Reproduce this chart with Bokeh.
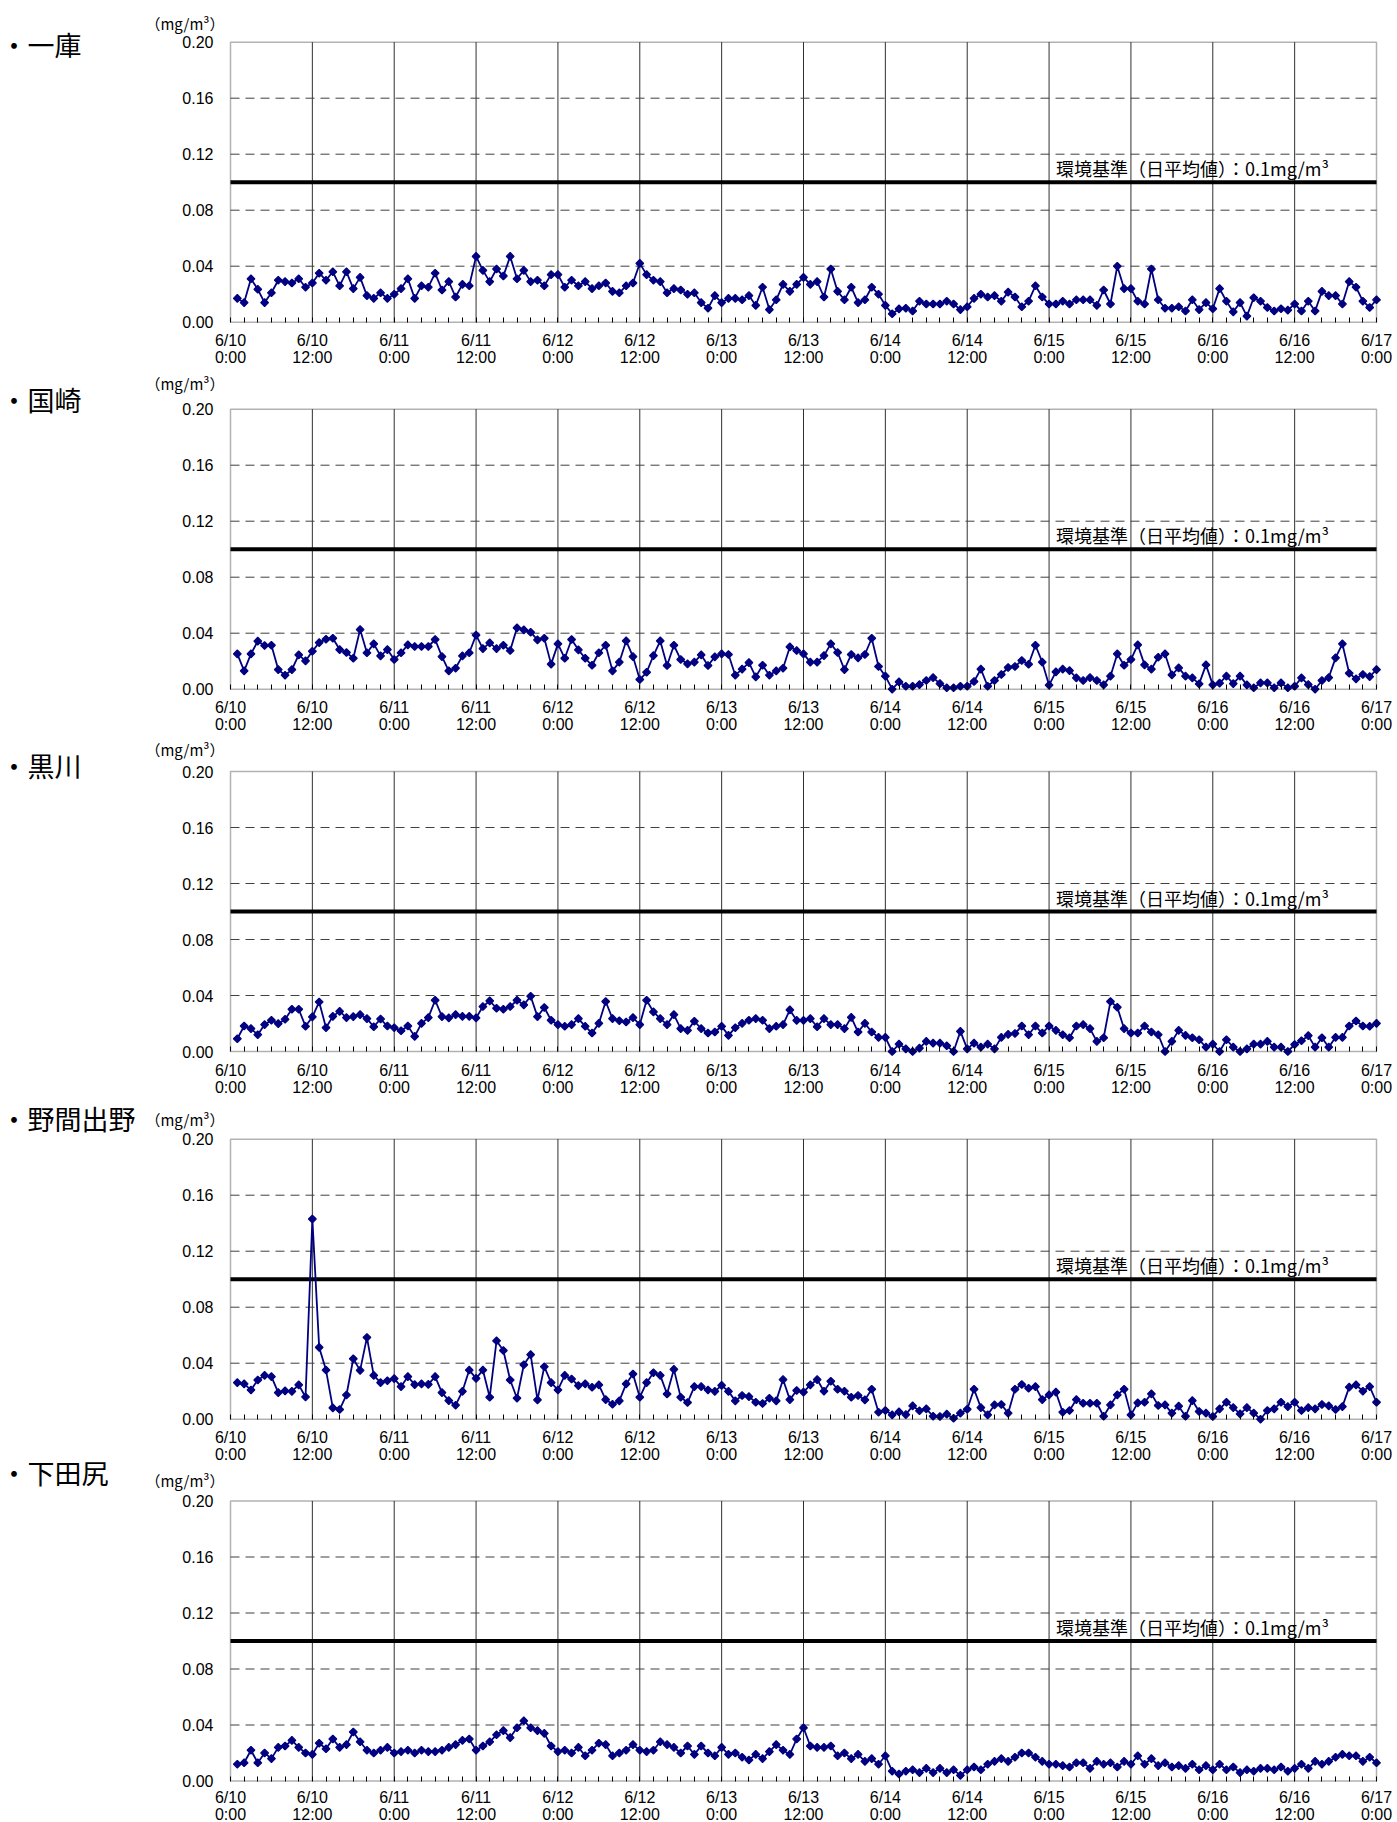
from bokeh.plotting import figure
from bokeh.layouts import column
from bokeh.models import (Range1d, FixedTicker, Label, LinearAxis,
                          NumeralTickFormatter, BoxAnnotation)
from bokeh.embed import file_html
from bokeh.resources import INLINE

# ---------------- data ----------------
HOURS = list(range(1, 169))  # hourly values 6/10 1:00 ... 6/17 0:00
X_TICKS = list(range(0, 169, 12))
X_TICK_LABELS = ["6/10\n0:00", "6/10\n12:00", "6/11\n0:00", "6/11\n12:00",
                 "6/12\n0:00", "6/12\n12:00", "6/13\n0:00", "6/13\n12:00",
                 "6/14\n0:00", "6/14\n12:00", "6/15\n0:00", "6/15\n12:00",
                 "6/16\n0:00", "6/16\n12:00", "6/17\n0:00"]
MINOR_TICKS = list(range(0, 169, 2))
Y_TICKS = [0.0, 0.04, 0.08, 0.12, 0.16, 0.20]
STANDARD = 0.1
STANDARD_LABEL = "環境基準（日平均値）：0.1mg/m³"
UNIT_LABEL = "（mg/m³）"
STATIONS = ["一庫", "国崎", "黒川", "野間出野", "下田尻"]

ICHIKURA = [
    0.017, 0.014, 0.031, 0.0235, 0.014, 0.021, 0.030, 0.029, 0.028, 0.031, 0.025, 0.028,
    0.035, 0.030, 0.036, 0.026, 0.036, 0.024, 0.032, 0.019, 0.017, 0.021, 0.017, 0.020,
    0.024, 0.031, 0.017, 0.026, 0.025, 0.035, 0.023, 0.029, 0.018, 0.027, 0.026, 0.047,
    0.037, 0.029, 0.038, 0.033, 0.047, 0.031, 0.037, 0.029, 0.030, 0.026, 0.034, 0.034,
    0.025, 0.030, 0.026, 0.029, 0.024, 0.026, 0.028, 0.022, 0.021, 0.026, 0.028, 0.042,
    0.034, 0.030, 0.029, 0.021, 0.024, 0.023, 0.020, 0.021, 0.014, 0.010, 0.019, 0.014,
    0.017, 0.017, 0.016, 0.019, 0.012, 0.025, 0.009, 0.016, 0.027, 0.022, 0.027, 0.032,
    0.027, 0.029, 0.018, 0.038, 0.022, 0.016, 0.025, 0.014, 0.016, 0.025, 0.020, 0.012,
    0.006, 0.0095, 0.010, 0.008, 0.015, 0.013, 0.013, 0.013, 0.015, 0.013, 0.009, 0.011,
    0.017, 0.020, 0.018, 0.019, 0.015, 0.0215, 0.018, 0.011, 0.015, 0.026, 0.018, 0.013,
    0.013, 0.015, 0.013, 0.016, 0.016, 0.016, 0.012, 0.023, 0.013, 0.040, 0.024, 0.024,
    0.015, 0.013, 0.038, 0.016, 0.010, 0.010, 0.011, 0.008, 0.016, 0.009, 0.014, 0.0096,
    0.024, 0.015, 0.0074, 0.014, 0.0043, 0.0175, 0.015, 0.0105, 0.008, 0.0096, 0.0086, 0.013,
    0.008, 0.015, 0.008, 0.022, 0.019, 0.019, 0.013, 0.029, 0.025, 0.015, 0.0105, 0.016,
]

KUNISAKI = [
    0.0252, 0.0131, 0.0252, 0.0343, 0.0312, 0.0314, 0.014, 0.010, 0.014, 0.0245, 0.0202, 0.0271,
    0.0333, 0.0357, 0.0364, 0.0283, 0.0262, 0.0221, 0.0426, 0.026, 0.0324, 0.0238, 0.0283, 0.0212,
    0.026, 0.0317, 0.0305, 0.0305, 0.0305, 0.0355, 0.0233, 0.0131, 0.015, 0.0238, 0.026, 0.0386,
    0.029, 0.0331, 0.029, 0.0314, 0.0276, 0.0438, 0.0424, 0.0407, 0.0352, 0.0364, 0.0179, 0.0324,
    0.0221, 0.0355, 0.0281, 0.0221, 0.0171, 0.026, 0.0314, 0.0131, 0.0193, 0.0345, 0.0233, 0.0069,
    0.0121, 0.024, 0.0345, 0.0169, 0.0314, 0.0212, 0.0181, 0.0193, 0.0245, 0.0169, 0.0231, 0.0252,
    0.0248, 0.010, 0.0143, 0.019, 0.0088, 0.0171, 0.010, 0.0131, 0.015, 0.0302, 0.0276, 0.0252,
    0.0193, 0.0193, 0.024, 0.0324, 0.0262, 0.014, 0.0248, 0.0224, 0.0248, 0.0364, 0.0162, 0.0093,
    0.0, 0.0052, 0.0021, 0.0021, 0.0033, 0.0062, 0.0083, 0.0040, 0.001, 0.001, 0.0021, 0.0021,
    0.0055, 0.0143, 0.0021, 0.0062, 0.0105, 0.0155, 0.0162, 0.0205, 0.0178, 0.0314, 0.0193, 0.0029,
    0.0124, 0.0143, 0.0133, 0.0081, 0.0062, 0.0083, 0.0062, 0.0031, 0.0093, 0.0252, 0.0171, 0.0212,
    0.0317, 0.0174, 0.0143, 0.0228, 0.0252, 0.0102, 0.0152, 0.0093, 0.0081, 0.0038, 0.0174, 0.0031,
    0.0043, 0.0093, 0.0040, 0.0093, 0.0031, 0.001, 0.0045, 0.0045, 0.001, 0.0045, 0.001, 0.0021,
    0.0081, 0.0033, 0.0, 0.0062, 0.0083, 0.0224, 0.0324, 0.0114, 0.0074, 0.0105, 0.0090, 0.014,
]

KUROKAWA = [
    0.0091, 0.0182, 0.0163, 0.012, 0.0192, 0.0223, 0.0199, 0.023, 0.0302, 0.0302, 0.018, 0.0247,
    0.0354, 0.017, 0.0251, 0.0287, 0.0242, 0.0249, 0.0263, 0.0235, 0.0177, 0.0232, 0.0182, 0.017,
    0.0148, 0.0182, 0.0108, 0.0201, 0.0242, 0.0366, 0.0249, 0.024, 0.0263, 0.0251, 0.0251, 0.024,
    0.0321, 0.0362, 0.0309, 0.0302, 0.0321, 0.0366, 0.0333, 0.0395, 0.0249, 0.0314, 0.0223, 0.0192,
    0.018, 0.0192, 0.0235, 0.018, 0.0132, 0.0201, 0.0357, 0.0235, 0.022, 0.0211, 0.0242, 0.0192,
    0.0366, 0.0283, 0.0235, 0.0192, 0.0263, 0.0163, 0.0151, 0.0216, 0.0163, 0.0132, 0.0139, 0.018,
    0.0115, 0.017, 0.0201, 0.0223, 0.0235, 0.0223, 0.0163, 0.018, 0.0192, 0.0297, 0.0222, 0.0222,
    0.0235, 0.0177, 0.0235, 0.0192, 0.0192, 0.0163, 0.0244, 0.0139, 0.0201, 0.0139, 0.0101, 0.0101,
    0.0, 0.0053, 0.0019, 0.0, 0.0024, 0.0072, 0.006, 0.006, 0.0041, 0.0, 0.0144, 0.0019,
    0.006, 0.0031, 0.0053, 0.0019, 0.0101, 0.0122, 0.0129, 0.0182, 0.012, 0.0182, 0.0132, 0.0182,
    0.0151, 0.012, 0.0098, 0.0182, 0.0192, 0.0163, 0.0072, 0.0098, 0.0357, 0.0316, 0.0163, 0.0132,
    0.0132, 0.0182, 0.0139, 0.012, 0.0, 0.0072, 0.0151, 0.0115, 0.0098, 0.0084, 0.0031, 0.0053,
    0.0, 0.0084, 0.0031, 0.0, 0.0019, 0.0053, 0.0053, 0.0072, 0.0031, 0.0031, 0.0, 0.0050,
    0.0077, 0.0113, 0.0031, 0.0098, 0.0031, 0.0101, 0.0101, 0.0182, 0.0218, 0.0182, 0.018, 0.0201,
]

NOMAIDENO = [
    0.0261, 0.0252, 0.0209, 0.028, 0.0313, 0.0304, 0.019, 0.0202, 0.0199, 0.0245, 0.0159, 0.143,
    0.0513, 0.0351, 0.0081, 0.0069, 0.0173, 0.0432, 0.0349, 0.0584, 0.0313, 0.0261, 0.0275, 0.029,
    0.0233, 0.0304, 0.0247, 0.0252, 0.0249, 0.0304, 0.019, 0.0133, 0.010, 0.0199, 0.0351, 0.0292,
    0.0351, 0.0157, 0.056, 0.0491, 0.028, 0.015, 0.0389, 0.0461, 0.0138, 0.0375, 0.0261, 0.0209,
    0.0313, 0.0287, 0.024, 0.0252, 0.0228, 0.0245, 0.014, 0.0107, 0.0131, 0.0252, 0.0323, 0.0157,
    0.0261, 0.0332, 0.0313, 0.018, 0.0356, 0.0157, 0.0119, 0.0233, 0.0233, 0.0209, 0.0199, 0.0242,
    0.0199, 0.0131, 0.0169, 0.0161, 0.0121, 0.0112, 0.015, 0.0131, 0.0283, 0.014, 0.0205, 0.0193,
    0.0245, 0.0283, 0.02, 0.0271, 0.0214, 0.02, 0.0157, 0.0169, 0.0138, 0.0214, 0.005, 0.0062,
    0.0031, 0.0052, 0.0033, 0.0095, 0.006, 0.0074, 0.0021, 0.0019, 0.0036, 0.0007, 0.0043, 0.0071,
    0.0214, 0.0083, 0.0031, 0.0102, 0.0105, 0.0043, 0.0214, 0.0248, 0.0221, 0.0233, 0.014, 0.0174,
    0.0193, 0.005, 0.0062, 0.014, 0.0114, 0.0114, 0.0114, 0.0021, 0.0102, 0.0174, 0.0214, 0.0031,
    0.0117, 0.0121, 0.0181, 0.0098, 0.0102, 0.0043, 0.0093, 0.0021, 0.0133, 0.0055, 0.0043, 0.0019,
    0.0074, 0.0121, 0.0083, 0.0038, 0.0083, 0.0043, 0.0, 0.0062, 0.0074, 0.0121, 0.009, 0.0121,
    0.0062, 0.0083, 0.0074, 0.0105, 0.0095, 0.0069, 0.009, 0.0229, 0.0245, 0.02, 0.0233, 0.0121,
]

SHIMOTAJIRI = [
    0.012, 0.013, 0.022, 0.013, 0.020, 0.016, 0.024, 0.025, 0.029, 0.024, 0.020, 0.019,
    0.027, 0.023, 0.030, 0.024, 0.026, 0.035, 0.028, 0.022, 0.020, 0.022, 0.024, 0.020,
    0.021, 0.022, 0.020, 0.022, 0.021, 0.021, 0.022, 0.024, 0.026, 0.029, 0.030, 0.022,
    0.025, 0.028, 0.033, 0.036, 0.031, 0.038, 0.043, 0.038, 0.036, 0.034, 0.025, 0.021,
    0.022, 0.020, 0.024, 0.018, 0.022, 0.027, 0.026, 0.018, 0.020, 0.022, 0.026, 0.022,
    0.021, 0.022, 0.028, 0.026, 0.024, 0.020, 0.025, 0.019, 0.025, 0.020, 0.018, 0.024,
    0.019, 0.020, 0.017, 0.015, 0.019, 0.016, 0.021, 0.026, 0.022, 0.019, 0.030, 0.038,
    0.025, 0.024, 0.024, 0.025, 0.018, 0.020, 0.016, 0.019, 0.014, 0.016, 0.012, 0.018,
    0.007, 0.005, 0.007, 0.008, 0.006, 0.009, 0.006, 0.009, 0.006, 0.008, 0.004, 0.008,
    0.010, 0.008, 0.012, 0.014, 0.016, 0.014, 0.017, 0.020, 0.020, 0.017, 0.014, 0.012,
    0.012, 0.011, 0.010, 0.013, 0.013, 0.009, 0.014, 0.012, 0.013, 0.010, 0.014, 0.012,
    0.018, 0.012, 0.016, 0.011, 0.013, 0.010, 0.011, 0.009, 0.012, 0.008, 0.011, 0.008,
    0.012, 0.008, 0.010, 0.006, 0.008, 0.007, 0.009, 0.009, 0.008, 0.010, 0.007, 0.009,
    0.012, 0.009, 0.014, 0.012, 0.014, 0.017, 0.019, 0.018, 0.018, 0.014, 0.017, 0.013,
]

SERIES = [ICHIKURA, KUNISAKI, KUROKAWA, NOMAIDENO, SHIMOTAJIRI]

# ---------------- layout / style (pixels) ----------------
CANVAS_W = 1397
PLOT_LEFT = 230            # x pixel of 6/10 0:00
PLOT_RIGHT = 1376          # x pixel of 6/17 0:00
PX_PER_UNIT = 280 / 0.2    # vertical scale: 0.20 mg/m3 = 280 px
FONT_CJK = "Noto Sans CJK JP"
FONT_NUM = "Liberation Sans"
NAVY = "#000080"

# canvas boundaries and per-panel positions in page pixels
BOUNDS = [0, 370, 736, 1097, 1491, 1822]
FRAME_BOTTOM = [321.7, 688.7, 1051.0, 1418.7, 1780.5]
TITLE_Y = [44, 399, 765, 1118, 1472]
UNIT_Y = [23, 383, 749, 1119, 1480]
XLABEL_STANDOFF = [10, 10, 10, 10, 8]
# canvas that carries each panel's title / unit texts
TEXT_HOST = [0, 1, 2, 3, 3]

SPAN_H = X_TICKS[-1] - X_TICKS[0]
PX_PER_H = (PLOT_RIGHT - PLOT_LEFT) / SPAN_H


def px_x(px):
    return X_TICKS[0] + (px - PLOT_LEFT) / PX_PER_H


def make_panel(i, values):
    top, bot = BOUNDS[i], BOUNDS[i + 1]
    fb = FRAME_BOTTOM[i]
    xs = px_x(0)
    xe = px_x(CANVAS_W)
    ys = -(bot - fb) / PX_PER_UNIT
    ye = (fb - top) / PX_PER_UNIT

    p = figure(width=CANVAS_W, height=bot - top,
               x_range=Range1d(xs, xe), y_range=Range1d(ys, ye),
               x_axis_type=None, y_axis_type=None,
               output_backend="svg", toolbar_location=None,
               min_border=0)
    p.outline_line_color = None
    p.background_fill_color = "white"
    p.border_fill_color = "white"
    p.xgrid.visible = False
    p.ygrid.visible = False

    x0, x1 = X_TICKS[0], X_TICKS[-1]
    y0, y1 = Y_TICKS[0], Y_TICKS[-1]

    # grid lines
    vx = X_TICKS[1:-1]
    p.segment(x0=vx, y0=[y0] * len(vx), x1=vx, y1=[y1] * len(vx),
              line_color="#303030", line_width=1)
    hy = Y_TICKS[1:-1]
    p.segment(x0=[x0] * len(hy), y0=hy, x1=[x1] * len(hy), y1=hy,
              line_color="#404040", line_width=1, line_dash="9 6")

    # environmental standard
    p.segment(x0=[x0], y0=[STANDARD], x1=[x1], y1=[STANDARD],
              line_color="black", line_width=4)

    # data
    p.line(HOURS, values, line_color=NAVY, line_width=1.8)
    p.scatter(HOURS, values, marker="square", angle=0.785398, size=5.5,
              fill_color=NAVY, line_color=NAVY, line_width=1.2)

    # plot border
    p.add_layout(BoxAnnotation(left=x0, right=x1, bottom=y0, top=y1,
                               fill_color=None, fill_alpha=0,
                               line_color="black", line_width=1.5))

    # axes fixed to the plot box edges
    xa = LinearAxis(fixed_location=y0, bounds=(x0, x1))
    xa.ticker = FixedTicker(ticks=X_TICKS, minor_ticks=MINOR_TICKS)
    xa.major_label_overrides = {t: lab for t, lab in zip(X_TICKS, X_TICK_LABELS)}
    xa.axis_line_color = None
    xa.major_tick_line_color = None
    xa.major_tick_in = 0
    xa.major_tick_out = 0
    xa.minor_tick_line_color = "black"
    xa.minor_tick_in = 5
    xa.minor_tick_out = 0
    xa.major_label_standoff = XLABEL_STANDOFF[i]
    xa.major_label_text_font = FONT_NUM
    xa.major_label_text_font_size = "16px"
    xa.major_label_text_line_height = 1.0
    xa.major_label_text_color = "black"
    p.add_layout(xa, "below")

    ya = LinearAxis(fixed_location=x0, bounds=(y0, y1))
    ya.ticker = FixedTicker(ticks=Y_TICKS, minor_ticks=[])
    ya.formatter = NumeralTickFormatter(format="0.00")
    ya.axis_line_color = None
    ya.major_tick_line_color = None
    ya.major_tick_in = 0
    ya.major_tick_out = 0
    ya.minor_tick_line_color = None
    ya.major_label_standoff = 17
    ya.major_label_text_font = FONT_NUM
    ya.major_label_text_font_size = "16px"
    ya.major_label_text_line_height = 1.0
    ya.major_label_text_color = "black"
    p.add_layout(ya, "left")

    p.add_layout(Label(x=px_x(1192), y=STANDARD + 1 / PX_PER_UNIT,
                       text=STANDARD_LABEL, text_font=FONT_CJK,
                       text_font_size="18px", text_align="center",
                       text_baseline="bottom", text_color="black"))
    return p


def add_panel_texts(p, host, i):
    fb = FRAME_BOTTOM[host]

    def px_y(py):
        return (fb - py) / PX_PER_UNIT

    p.add_layout(Label(x=px_x(0), y=px_y(TITLE_Y[i]),
                       text="・" + STATIONS[i], text_font=FONT_CJK,
                       text_font_size="27px", text_line_height=1.0,
                       text_align="left", text_baseline="middle",
                       text_color="black"))
    p.add_layout(Label(x=px_x(224), y=px_y(UNIT_Y[i]),
                       text=UNIT_LABEL, text_font=FONT_CJK,
                       text_font_size="15px", text_line_height=1.0,
                       text_align="right", text_baseline="middle",
                       text_color="black"))


figs = [make_panel(i, v) for i, v in enumerate(SERIES)]
for i in range(len(STATIONS)):
    add_panel_texts(figs[TEXT_HOST[i]], TEXT_HOST[i], i)

page = column(*figs, spacing=0)

open("out.html", "w").write(file_html(page, INLINE))
